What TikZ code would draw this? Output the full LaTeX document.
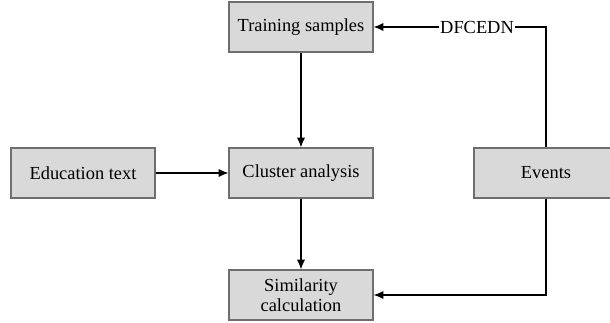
\documentclass[tikz,border=0pt]{standalone}
\usepackage{fontspec}
\setmainfont{Liberation Serif}
\usepackage{xcolor}
\definecolor{BoxGray}  {RGB}{217, 217, 217}
\definecolor{EdgeGray} {RGB}{110, 110, 110}
\usetikzlibrary{arrows.meta, positioning}

\begin{document}
\begin{tikzpicture}[
  x=0.75pt, y=-0.75pt,
  font=\fontsize{13.8}{15}\selectfont,
  block/.style={
    draw=EdgeGray, fill=BoxGray,
    line width=0.8pt, align=center,
    minimum width=108pt, minimum height=37.5pt,
    inner sep=2pt
  },
  arrow/.style={
    -{Latex[length=2.6mm, width=2.2mm]},
    line width=1pt, color=black},
  flowlabel/.style={
    fill=white, inner sep=1pt}
]
\clip (0,0) rectangle (610,322);

\node[block] (train) at (301,27) {Training samples};
\node[block] (cluster) at (301,173) {Cluster analysis};
\node[block] (edu) at (83,173) {Education text};
\node[block] (events) at (546,173) {Events};
\node[block] (simil) at (301,295)
  {Similarity\\calculation};

\draw[arrow] (train.south) -- (cluster.north);
\draw[arrow] (cluster.south) -- (simil.north);
\draw[arrow] (edu.east) -- (cluster.west);
\draw[arrow] (events.north) |-
  node[flowlabel, pos=0.7] {DFCEDN} (train.east);
\draw[arrow] (events.south) |- (simil.east);
\end{tikzpicture}
\end{document}
